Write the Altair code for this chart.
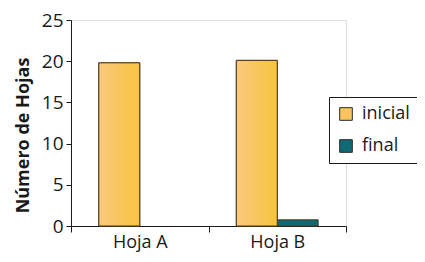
import altair as alt
import pandas as pd

categories = ["Hoja A", "Hoja A", "Hoja B", "Hoja B"]
series = ["inicial", "final", "inicial", "final"]
values = [19.8, 0.0, 20.1, 0.75]

df = pd.DataFrame({"hoja": categories, "serie": series, "valor": values})

FONT = "Open Sans"
INK = "#1a1a1a"

x = alt.X("hoja:N", title=None,
          scale=alt.Scale(paddingInner=0, paddingOuter=0),
          axis=alt.Axis(labelAngle=0, tickBand="extent", labelFontSize=18,
                        labelColor=INK, labelPadding=1, tickSize=6,
                        domainColor=INK, tickColor=INK, labelFont=FONT))
y = alt.Y("valor:Q", title="Número de Hojas",
          scale=alt.Scale(domain=[0, 25], nice=False),
          axis=alt.Axis(values=[0, 5, 10, 15, 20, 25], labelFontSize=19, labelColor=INK,
                        tickSize=5, labelPadding=3, domainColor=INK, tickColor=INK,
                        grid=False, titleFontSize=18, titleFontWeight="bold", titleColor=INK,
                        titleX=-43, titleY=115, titleBaseline="alphabetic", titleAlign="center",
                        labelFont=FONT, titleFont=FONT))
xo = alt.XOffset("serie:N", sort=["inicial", "final"],
                 scale=alt.Scale(paddingOuter=0.68, paddingInner=0))

base = alt.Chart(df).transform_filter(alt.datum.valor > 0)

bars = base.mark_bar(stroke="#4a3a22", strokeWidth=1).encode(
    x=x, y=y, xOffset=xo,
    color=alt.Color("serie:N", sort=["inicial", "final"], title=None,
                    scale=alt.Scale(domain=["inicial", "final"], range=["#f8c55a", "#0e6b75"]),
                    legend=alt.Legend(orient="none", legendX=258, legendY=77,
                                      symbolType="square", symbolSize=160,
                                      symbolStrokeColor="#2a2a2a", symbolStrokeWidth=1,
                                      labelFontSize=18, labelFont=FONT, labelColor=INK,
                                      rowPadding=14, padding=8, labelOffset=7,
                                      strokeColor=INK, fillColor="white",
                                      symbolOpacity=1))
)

grad = alt.Gradient(gradient="linear",
                    stops=[alt.GradientStop(color="#f9c97e", offset=0),
                           alt.GradientStop(color="#f7c43e", offset=1)],
                    x1=0, x2=1, y1=0, y2=0)

overlay = base.transform_filter(alt.datum.serie == "inicial").mark_bar(
    stroke="#4a3a22", strokeWidth=1, fill=grad
).encode(x=x, y=y, xOffset=xo)

chart = alt.layer(bars, overlay).properties(
    width=275, height=206,
    autosize=alt.AutoSizeParams(type="none"),
    padding={"left": 63, "top": 12, "right": 71, "bottom": 28},
).configure_view(stroke=None).configure(font=FONT)

chart.save("out.html", embed_options={"renderer": "svg", "actions": False})
